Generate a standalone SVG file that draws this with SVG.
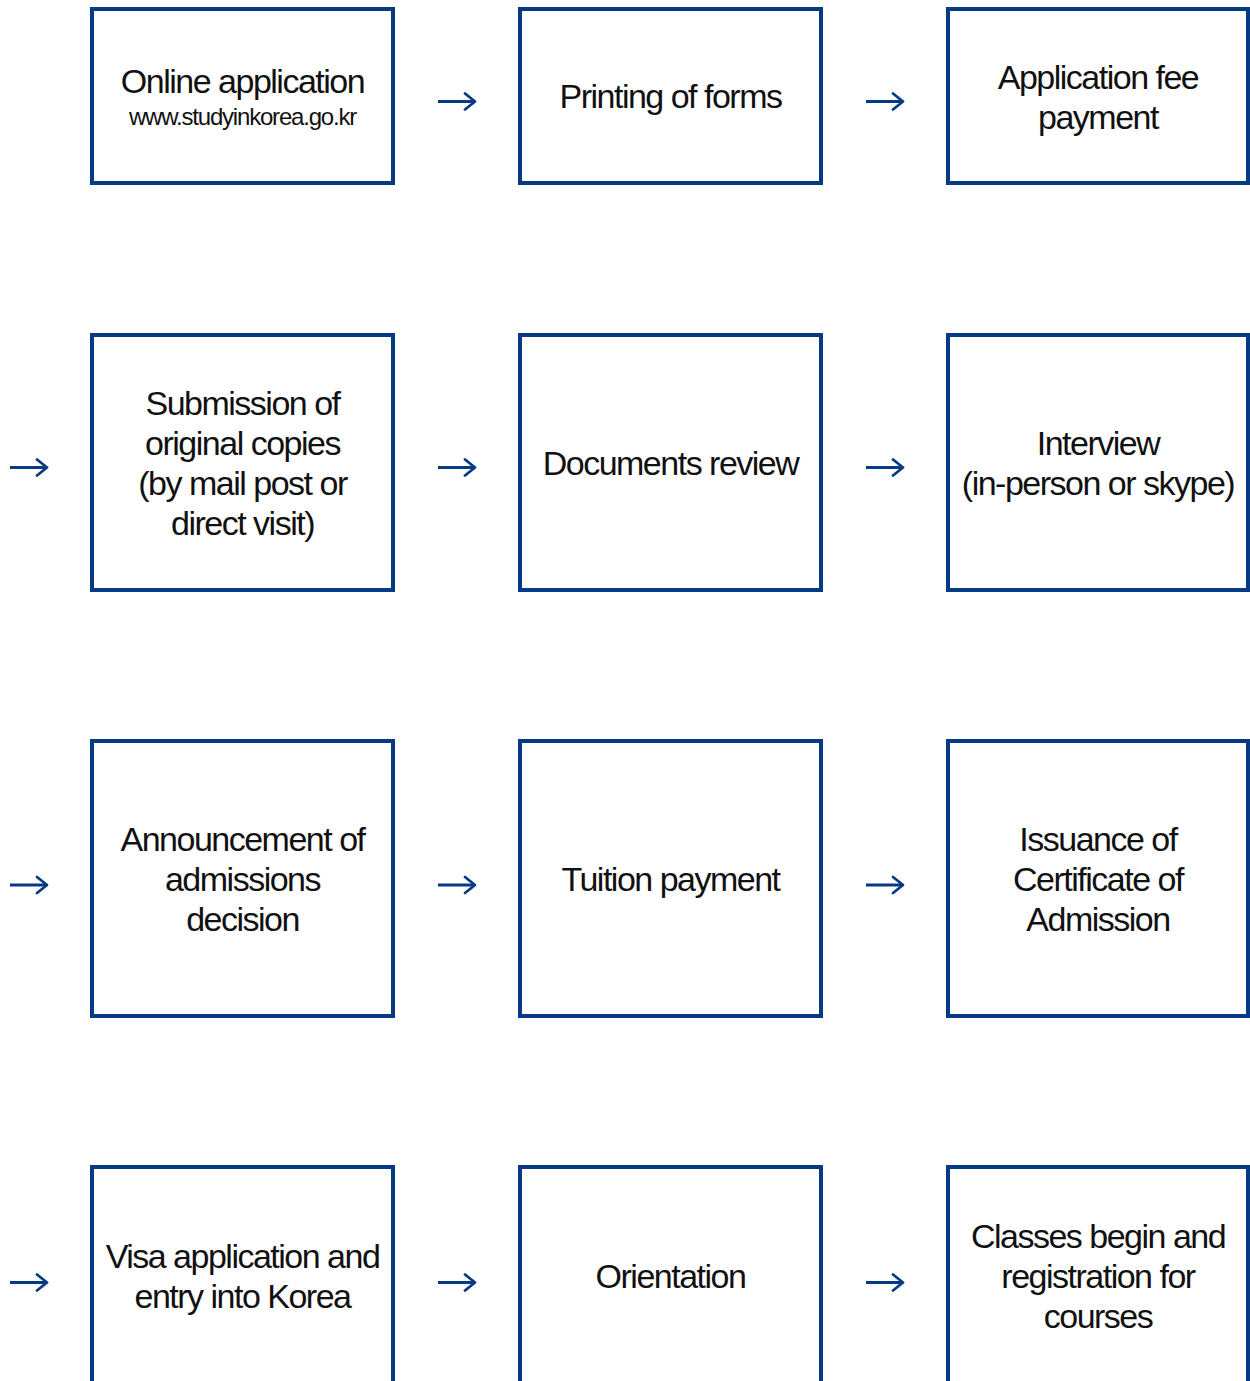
<svg xmlns="http://www.w3.org/2000/svg" width="1250" height="1381" viewBox="0 0 1250 1381">
<style>
.box{fill:#ffffff;stroke:#063a84;stroke-width:4}
.t{font-family:"Liberation Sans",Arial,sans-serif;font-size:34px;letter-spacing:-1.5px;fill:#111111;text-anchor:middle}
.s{font-size:24px;letter-spacing:-1.2px}
.arr{fill:none;stroke:#063a84;stroke-width:3;marker-end:url(#head)}
</style>
<defs>
<marker id="head" markerUnits="userSpaceOnUse" viewBox="-14 -10 16 20" refX="0" refY="0" markerWidth="16" markerHeight="20" orient="auto">
<path d="M-10,-8 L0,0 L-10,8" fill="none" stroke="#063a84" stroke-width="2.8" stroke-linecap="round" stroke-linejoin="round"/>
</marker>
</defs>
<rect width="1250" height="1381" fill="#ffffff"/>
<g id="connectors">
<path class="arr" d="M438,101.5 H475"/>
<path class="arr" d="M866,101.5 H903"/>
<path class="arr" d="M10,467.5 H47"/>
<path class="arr" d="M438,467.5 H475"/>
<path class="arr" d="M866,467.5 H903"/>
<path class="arr" d="M10,885 H47"/>
<path class="arr" d="M438,885 H475"/>
<path class="arr" d="M866,885 H903"/>
<path class="arr" d="M10,1282.5 H47"/>
<path class="arr" d="M438,1282.5 H475"/>
<path class="arr" d="M866,1282.5 H903"/>
</g>
<g id="n1"><rect class="box" x="92" y="9" width="301" height="174"/>
<text class="t" x="242.5" y="93">Online application</text>
<text class="t s" x="242.5" y="125">www.studyinkorea.go.kr</text></g>
<g id="n2"><rect class="box" x="520" y="9" width="301" height="174"/>
<text class="t" x="670.5" y="108">Printing of forms</text></g>
<g id="n3"><rect class="box" x="948" y="9" width="300" height="174"/>
<text class="t" x="1098" y="89">Application fee</text>
<text class="t" x="1098" y="129">payment</text></g>
<g id="n4"><rect class="box" x="92" y="335" width="301" height="255"/>
<text class="t" x="242.5" y="415">Submission of</text>
<text class="t" x="242.5" y="455">original copies</text>
<text class="t" x="242.5" y="495">(by mail post or</text>
<text class="t" x="242.5" y="535">direct visit)</text></g>
<g id="n5"><rect class="box" x="520" y="335" width="301" height="255"/>
<text class="t" x="670.5" y="475">Documents review</text></g>
<g id="n6"><rect class="box" x="948" y="335" width="300" height="255"/>
<text class="t" x="1098" y="455">Interview</text>
<text class="t" x="1098" y="495">(in-person or skype)</text></g>
<g id="n7"><rect class="box" x="92" y="741" width="301" height="275"/>
<text class="t" x="242.5" y="851">Announcement of</text>
<text class="t" x="242.5" y="891">admissions</text>
<text class="t" x="242.5" y="931">decision</text></g>
<g id="n8"><rect class="box" x="520" y="741" width="301" height="275"/>
<text class="t" x="670.5" y="891">Tuition payment</text></g>
<g id="n9"><rect class="box" x="948" y="741" width="300" height="275"/>
<text class="t" x="1098" y="851">Issuance of</text>
<text class="t" x="1098" y="891">Certificate of</text>
<text class="t" x="1098" y="931">Admission</text></g>
<g id="n10"><rect class="box" x="92" y="1167" width="301" height="260"/>
<text class="t" x="242.5" y="1268">Visa application and</text>
<text class="t" x="242.5" y="1308">entry into Korea</text></g>
<g id="n11"><rect class="box" x="520" y="1167" width="301" height="260"/>
<text class="t" x="670.5" y="1288">Orientation</text></g>
<g id="n12"><rect class="box" x="948" y="1167" width="300" height="260"/>
<text class="t" x="1098" y="1248">Classes begin and</text>
<text class="t" x="1098" y="1288">registration for</text>
<text class="t" x="1098" y="1328">courses</text></g>
</svg>
